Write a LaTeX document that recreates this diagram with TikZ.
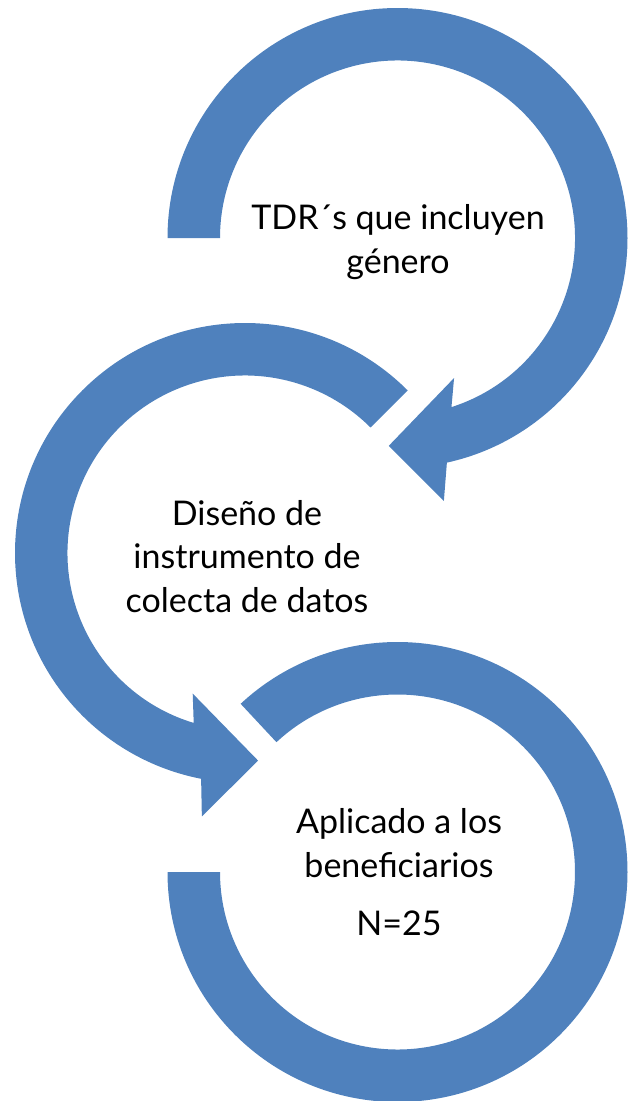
\documentclass[tikz,border=0pt]{standalone}
\usepackage{fontspec}
\setmainfont{Lato}
\usetikzlibrary{calc}
\definecolor{arrowblue}{RGB}{79,129,189}
\begin{document}
\begin{tikzpicture}[x=1pt,y=1pt,
  ring/.style={fill=arrowblue, draw=none},
  steptext/.style={align=center, inner sep=0pt, text=black,
    font=\fontsize{34}{43.5}\selectfont}]
\useasboundingbox (0,0) rectangle (628,-1101);
\coordinate (c1) at (397.5,-238);
\coordinate (c2) at (245,-553);
\coordinate (c3) at (397.5,-872);
% circle 1: clockwise arrow
\fill[ring] ($(c1)+(180:230)$) arc[start angle=180,end angle=-77.6,radius=230]
  -- ($(c1)+(-80:267)$) -- ($(c1)+(-92.4:208)$) -- ($(c1)+(-68:151)$)
  -- ($(c1)+(-72.3:177.5)$) arc[start angle=-72.3,end angle=180,radius=177.5] -- cycle;
% circle 2: counter-clockwise arrow
\fill[ring] ($(c2)+(45:230)$) arc[start angle=45,end angle=259,radius=230]
  -- ($(c2)+(260.7:267)$) -- ($(c2)+(273.6:208)$) -- ($(c2)+(249.6:150)$)
  -- ($(c2)+(253.2:177.5)$) arc[start angle=253.2,end angle=45,radius=177.5] -- cycle;
% circle 3: open ring
\fill[ring] ($(c3)+(180:230)$) arc[start angle=180,end angle=493,radius=230]
  -- ($(c3)+(493:177.5)$) arc[start angle=493,end angle=180,radius=177.5] -- cycle;
% texts (base anchor = baseline of the last line)
\node[steptext, anchor=base] (t1) at (398,-273) {TDR´s que incluyen\\género};
\node[steptext, anchor=base] (t2) at (247,-612) {Diseño de\\instrumento de\\colecta de datos};
\node[steptext, anchor=base] (t3) at (399,-935) {Aplicado a los\\beneficiarios\\[14.5pt]N=25};
\end{tikzpicture}
\end{document}
